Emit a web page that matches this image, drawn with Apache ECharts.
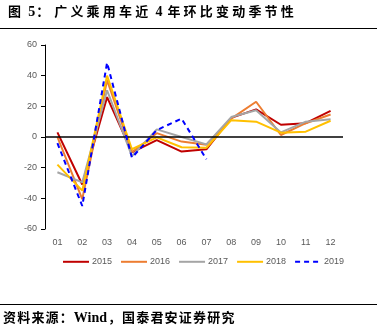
<!DOCTYPE html>
<html><head><meta charset="utf-8">
<script src="https://cdn.jsdelivr.net/npm/echarts@6/dist/echarts.min.js"></script>
<style>html,body{margin:0;padding:0;background:#fff}#c{width:377px;height:328px}</style>
</head><body><div id="c"></div>
<script>
const months = ['01','02','03','04','05','06','07','08','09','10','11','12'];
const s2015 = [3, -31, 26, -10, -2, -9.5, -8, 12.5, 18, 8, 9, 17];
const s2016 = [0, -40.5, 37, -10, 2.5, -3, -5, 12, 23, 1.3, 9, 14.7];
const s2017 = [-23, -29.6, 30.5, -12.5, 5, 0, -4.8, 13, 17.5, 3, 10, 11.5];
const s2018 = [-18, -35, 40, -8, -0.2, -6.7, -7, 11, 10, 2.8, 3.5, 10.6];
const s2019 = [-4, -45, 48.5, -13.5, 4.5, 12, -14.5];
const yTicks = {min: -60, max: 60, interval: 20};
const titleText = '图 5：广义乘用车近 4 年环比变动季节性';
const sourceText = '资料来源：Wind，国泰君安证券研究';

// Lay out CJK text character by character to mimic the wider spacing of the original
function spacedText(text, x0, yTop, size, cjkAdv, opts) {
  const els = [];
  let x = x0;
  let i = 0;
  while (i < text.length) {
    const ch = text[i];
    if (/[A-Za-z0-9]/.test(ch)) {
      let j = i;
      while (j < text.length && /[A-Za-z0-9]/.test(text[j])) j++;
      const word = text.slice(i, j);
      const font = 'bold ' + (size + 1) + 'px "Liberation Serif"';
      els.push({type: 'text', x, y: yTop + 0.5, style: {text: word, font, fill: '#000'}});
      x += opts.wordWidth(word);
      i = j;
    } else if (ch === ' ') {
      x += opts.space;
      i++;
    } else {
      els.push({type: 'text', x, y: yTop, style: {text: ch, font: 'bold ' + size + 'px "Noto Sans CJK SC"', fill: '#000'}});
      x += (ch === '：' || ch === '，') ? opts.punct : cjkAdv;
      i++;
    }
  }
  return els;
}
const measureCanvas = document.createElement('canvas').getContext('2d');
function mkWordWidth(size) {
  return function (w) {
    measureCanvas.font = 'bold ' + (size + 1) + 'px "Liberation Serif"';
    return measureCanvas.measureText(w).width + 1;
  };
}

const chart = echarts.init(document.getElementById('c'), null, {renderer: 'canvas'});
function line(name, data, color, dashed) {
  return {
    name, type: 'line', data, symbol: 'none', smooth: false,
    lineStyle: {color, width: 2, type: dashed ? [5, 4] : 'solid'},
    itemStyle: {color}, z: dashed ? 5 : 3
  };
}
const series = [
  line('2015', s2015, '#C00000'),
  line('2016', s2016, '#ED7D31'),
  line('2017', s2017, '#A5A5A5'),
  line('2018', s2018, '#FFC000'),
  line('2019', s2019, '#0000FF', true)
];
series[0].markLine = {
  silent: true, symbol: 'none', label: {show: false},
  lineStyle: {color: '#000', width: 1.5, type: 'solid'},
  data: [{yAxis: 0}]
};
const titleEls = spacedText(titleText, 8, 5, 13, 16.2, {space: 4, punct: 18, wordWidth: mkWordWidth(13)});
const sourceEls = spacedText(sourceText, 3, 311, 13, 14.2, {space: 4, punct: 14, wordWidth: mkWordWidth(13)});
chart.setOption({
  animation: false,
  textStyle: {fontFamily: 'Liberation Sans, Arial, sans-serif'},
  grid: {left: 45, right: 34, top: 45, bottom: 99, containLabel: false},
  xAxis: {
    type: 'category', data: months, boundaryGap: true,
    axisLine: {show: false, onZero: false}, axisTick: {show: false},
    axisLabel: {color: '#595959', fontSize: 9, margin: 9},
    splitLine: {show: false}
  },
  yAxis: {
    type: 'value', min: yTicks.min, max: yTicks.max, interval: yTicks.interval,
    axisLine: {show: true, lineStyle: {color: '#000', width: 1}},
    axisTick: {show: true, length: 4, lineStyle: {color: '#000'}},
    axisLabel: {color: '#595959', fontSize: 9, margin: 8},
    splitLine: {show: false}
  },
  legend: {
    top: 257, left: 62, padding: 0, itemWidth: 26, itemHeight: 12, itemGap: 8,
    itemStyle: {opacity: 0, borderWidth: 0},
    textStyle: {color: '#595959', fontSize: 9, padding: [0, 0, 0, -2]},
    data: ['2015','2016','2017','2018','2019']
  },
  graphic: [
    ...titleEls,
    {type: 'rect', shape: {x: 0, y: 28, width: 377, height: 1}, style: {fill: '#000'}},
    {type: 'rect', shape: {x: 0, y: 304, width: 377, height: 1}, style: {fill: '#000'}},
    ...sourceEls
  ],
  series
});
</script></body></html>
